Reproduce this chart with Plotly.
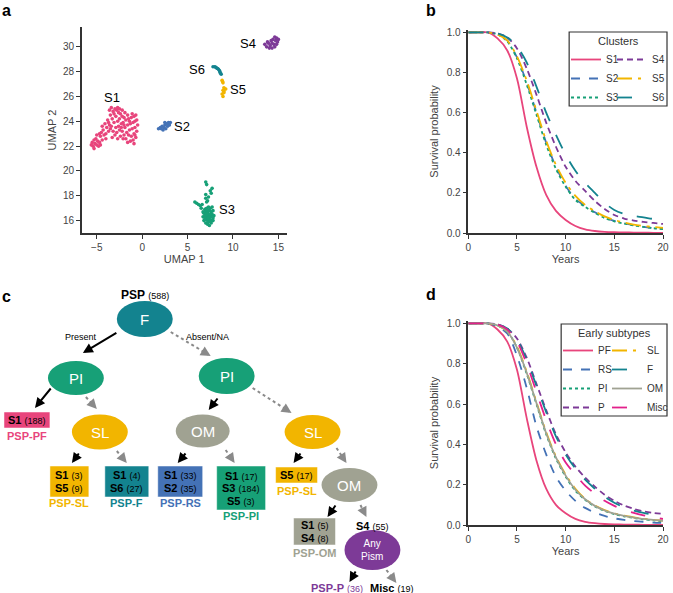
import plotly.graph_objects as go

W, H = 673, 593
FONT = "Liberation Sans, Arial, sans-serif"

# ---------------- Panel a: UMAP clusters ----------------
s1_pts = [(-5.4,22.0),(-5.2,22.2),(-5.3,21.8),(-5.0,22.1),(-4.9,22.4),(-5.1,22.6),(-4.7,22.3),(-4.6,22.8),
          (-4.4,22.5),(-4.8,22.0),(-5.5,22.3),(-4.5,23.1),(-4.2,22.9),(-4.3,23.3),(-4.0,23.0),(-3.9,23.5),
          (-4.1,23.8),(-3.7,23.2),(-3.6,23.7),(-3.8,24.1),(-3.5,24.5),(-3.2,24.8),(-3.0,25.0),(-2.8,24.9),
          (-3.3,24.2),(-2.9,24.4),(-2.6,24.7),(-2.4,24.6),(-3.1,23.9),(-2.7,24.0),(-2.5,24.2),(-2.2,24.4),
          (-2.0,24.3),(-3.4,23.6),(-2.9,23.5),(-2.6,23.6),(-2.3,23.8),(-2.1,23.9),(-1.8,24.1),(-1.5,24.2),
          (-1.2,24.3),(-0.9,24.4),(-0.7,24.5),(-3.2,23.2),(-2.8,23.1),(-2.5,23.3),(-2.2,23.2),(-1.9,23.5),
          (-1.6,23.7),(-1.3,23.8),(-1.0,23.9),(-0.8,24.0),(-3.0,22.9),(-2.4,22.8),(-2.0,22.9),(-1.7,23.1),
          (-1.4,23.3),(-1.1,23.4),(-0.8,23.5),(-0.6,23.2),(-1.5,22.9),(-1.2,22.8),(-0.9,23.0),(-0.7,22.7),
          (-1.0,22.5),(-1.3,22.4),(-2.1,22.6),(-1.8,22.6),(-0.8,22.9),(-3.6,24.9),(-3.4,25.1),(-2.5,25.0),
          (-2.2,24.9),(-3.7,23.9),(-3.5,23.4),(-4.4,23.6),(-4.7,23.0),(-5.0,22.9),(-4.0,22.6),(-3.3,22.7),
          (-2.7,22.6),(-1.6,24.5),(-1.9,24.7),(-0.6,24.1),(-2.3,23.5),(-1.1,24.6),(-2.0,23.7),(-1.4,24.0),
          (-5.6,22.1),(-5.3,22.5),(-4.6,22.1),(-3.1,24.6),(-2.7,25.1),(-0.5,23.7),(-0.9,22.2),(-1.6,22.3)]
s2_pts = [(1.8,23.4),(2.0,23.5),(2.2,23.6),(2.4,23.5),(2.5,23.7),(2.7,23.8),(2.9,23.9),(3.0,23.7),
          (2.6,23.4),(2.3,23.3),(2.8,23.6),(2.1,23.4),(3.1,23.9),(2.5,23.9)]
s3_pts = [(7.0,15.8),(7.2,15.7),(7.4,15.6),(7.6,15.8),(6.8,16.0),(7.0,16.1),(7.2,16.0),(7.4,16.1),
          (7.6,16.0),(7.8,16.2),(6.7,16.3),(6.9,16.4),(7.1,16.3),(7.3,16.4),(7.5,16.3),(7.7,16.5),
          (7.9,16.4),(6.8,16.6),(7.0,16.7),(7.2,16.6),(7.4,16.8),(7.6,16.7),(7.8,16.8),(6.9,16.9),
          (7.1,17.0),(7.3,17.1),(7.5,17.0),(7.7,17.1),(7.3,15.9),(7.5,16.5),(7.1,16.5),(6.9,16.2),
          (7.6,16.3),(7.0,16.9),(7.4,16.3),(7.2,16.2),(7.8,16.0),(6.7,16.7),(7.3,16.8),(7.5,15.9),
          (6.0,17.4),(6.2,17.3),(6.4,17.2),(6.5,17.0),(5.8,17.5),(6.6,17.3),(7.1,17.5),(7.0,17.8),
          (7.3,17.9),(7.0,18.1),(7.5,18.4),(7.7,18.6),(7.6,18.2),(7.1,18.9),(7.0,19.1),(7.2,17.6)]
s4_pts = [(13.5,30.2),(13.7,30.0),(13.9,30.3),(14.1,30.1),(14.3,29.9),(14.5,30.2),(14.7,30.5),(14.9,30.4),
          (14.6,30.8),(14.8,30.7),(14.2,30.5),(14.0,29.9),(14.4,30.6),(15.0,30.6),(13.8,30.4),(14.6,30.0),
          (14.3,30.3),(14.8,30.2)]
s5_pts = [(8.8,27.3),(8.9,27.1),(9.0,26.7),(9.1,26.6),(8.9,26.5),(9.0,26.4),(9.2,26.6),(8.8,26.2),
          (8.9,26.0),(9.0,26.3),(8.85,27.2)]
s6_pts = [(7.8,28.4),(8.0,28.4),(8.2,28.3),(8.4,28.2),(8.5,28.1),(8.6,27.9),(8.7,27.8),(8.1,28.35),
          (8.3,28.25),(8.55,28.0)]
cluster_names = ["S1", "S2", "S3", "S4", "S5", "S6"]
cluster_label_x = [-3.3, 4.4, 9.3, 11.6, 10.5, 6.0]
cluster_label_y = [25.9, 23.6, 16.9, 30.3, 26.6, 28.2]

# ---------------- Panel b: survival by cluster ----------------
years = list(range(0, 21))
s1_surv = [1, 1, 1, 0.97, 0.91, 0.77, 0.53, 0.33, 0.19, 0.11, 0.065, 0.035, 0.018, 0.01, 0.006, 0.004, 0.003, 0.002, 0.002, 0.001, 0.001]
s2_surv = [1, 1, 1, 0.99, 0.96, 0.875, 0.75, 0.60, 0.45, 0.33, 0.235, 0.17, 0.135, 0.103, 0.078, 0.06, 0.048, 0.039, 0.031, 0.025, 0.021]
s3_surv = [1, 1, 1, 0.99, 0.955, 0.87, 0.74, 0.59, 0.44, 0.32, 0.23, 0.165, 0.13, 0.1, 0.075, 0.058, 0.047, 0.038, 0.03, 0.024, 0.02]
s4_surv = [1, 1, 1, 0.995, 0.975, 0.92, 0.82, 0.69, 0.55, 0.43, 0.33, 0.26, 0.21, 0.16, 0.12, 0.09, 0.072, 0.062, 0.055, 0.05, 0.045]
s5_surv = [1, 1, 1, 0.99, 0.96, 0.88, 0.76, 0.61, 0.46, 0.34, 0.25, 0.185, 0.14, 0.108, 0.083, 0.065, 0.052, 0.042, 0.035, 0.03, 0.026]
s6_surv = [1, 1, 1, 0.995, 0.975, 0.93, 0.85, 0.73, 0.60, 0.49, 0.39, 0.31, 0.25, 0.2, 0.15, 0.115, 0.095, 0.085, 0.078, 0.07, 0.065]

# ---------------- Panel d: survival by early subtype ----------------
pf_surv = [1, 1, 1, 0.97, 0.91, 0.77, 0.53, 0.32, 0.18, 0.10, 0.058, 0.03, 0.016, 0.009, 0.005, 0.003, 0.002, 0.002, 0.001, 0.001, 0.001]
rs_surv = [1, 1, 1, 0.985, 0.95, 0.84, 0.68, 0.49, 0.35, 0.24, 0.17, 0.12, 0.085, 0.062, 0.045, 0.033, 0.025, 0.019, 0.015, 0.012, 0.01]
pi_surv = [1, 1, 1, 0.99, 0.96, 0.88, 0.75, 0.60, 0.45, 0.33, 0.24, 0.17, 0.125, 0.092, 0.07, 0.054, 0.043, 0.035, 0.028, 0.023, 0.019]
p_surv = [1, 1, 1, 0.995, 0.975, 0.925, 0.83, 0.70, 0.57, 0.45, 0.36, 0.29, 0.235, 0.19, 0.15, 0.12, 0.097, 0.08, 0.068, 0.06, 0.055]
sl_surv = [1, 1, 1, 0.99, 0.96, 0.885, 0.76, 0.61, 0.46, 0.34, 0.25, 0.18, 0.13, 0.097, 0.074, 0.057, 0.046, 0.038, 0.031, 0.026, 0.022]
f_surv = [1, 1, 1, 0.995, 0.975, 0.92, 0.82, 0.69, 0.56, 0.44, 0.35, 0.28, 0.225, 0.18, 0.14, 0.11, 0.088, 0.072, 0.06, 0.052, 0.045]
om_surv = [1, 1, 1, 0.99, 0.96, 0.88, 0.755, 0.605, 0.455, 0.335, 0.245, 0.175, 0.128, 0.095, 0.072, 0.056, 0.045, 0.037, 0.03, 0.025, 0.021]
misc_surv = [1, 1, 1, 0.995, 0.97, 0.91, 0.80, 0.66, 0.52, 0.40, 0.31, 0.25, 0.195, 0.155, 0.12, 0.095, 0.075, 0.06, 0.048, 0.038, 0.03]

# ---------------- Panel c: decision tree ----------------
root_label, root_count = "PSP", 588
tree_nodes = ["F", "PI", "PI", "SL", "OM", "SL", "OM", "Any<br>Pism"]
leaf_names = ["PSP-PF", "PSP-SL", "PSP-F", "PSP-RS", "PSP-PI", "PSP-SL", "PSP-OM"]
leaf_members = [[("S1", 188)], [("S1", 3), ("S5", 9)], [("S1", 4), ("S6", 27)], [("S1", 33), ("S2", 35)],
                [("S1", 17), ("S3", 184), ("S5", 3)], [("S5", 17)], [("S1", 5), ("S4", 8)]]
s4_rest = ("S4", 55)
final_p = ("PSP-P", 36)
final_misc = ("Misc", 19)

# ---------------- colours ----------------
C = {"S1": "#E8457C", "S2": "#4472B6", "S3": "#17A077", "S4": "#7D3A97", "S5": "#F2B500", "S6": "#13838F",
     "OM": "#A0A292", "MISC": "#E2218B"}

fig = go.Figure()

# panel a
for name, pts in zip(cluster_names, [s1_pts, s2_pts, s3_pts, s4_pts, s5_pts, s6_pts]):
    fig.add_trace(go.Scatter(x=[p[0] for p in pts], y=[p[1] for p in pts], mode="markers",
                             marker=dict(size=3.6, color=C[name]), showlegend=False,
                             xaxis="x", yaxis="y"))

# panel b
b_series = [("S1", s1_surv, C["S1"], "solid", "legend"), ("S2", s2_surv, C["S2"], "dash", "legend"),
            ("S3", s3_surv, C["S3"], "dot", "legend"), ("S4", s4_surv, C["S4"], "6px,4px", "legend2"),
            ("S5", s5_surv, C["S5"], "longdashdot", "legend2"), ("S6", s6_surv, C["S6"], "longdash", "legend2")]
for name, vals, col, dash, lg in b_series:
    fig.add_trace(go.Scatter(x=years, y=vals, mode="lines", name=name, legend=lg,
                             line=dict(color=col, width=1.8, dash=dash, shape="spline", smoothing=0.8),
                             xaxis="x2", yaxis="y2"))

# panel d
d_series = [("PF", pf_surv, C["S1"], "solid", "legend3"), ("RS", rs_surv, C["S2"], "dash", "legend3"),
            ("PI", pi_surv, C["S3"], "dot", "legend3"), ("P", p_surv, C["S4"], "6px,4px", "legend3"),
            ("SL", sl_surv, C["S5"], "longdashdot", "legend4"), ("F", f_surv, C["S6"], "longdash", "legend4"),
            ("OM", om_surv, C["OM"], "solid", "legend4"), ("Misc", misc_surv, C["MISC"], "longdash", "legend4")]
for name, vals, col, dash, lg in d_series:
    fig.add_trace(go.Scatter(x=years, y=vals, mode="lines", name=name, legend=lg,
                             line=dict(color=col, width=1.8, dash=dash, shape="spline", smoothing=0.8),
                             xaxis="x3", yaxis="y3"))

ax_style = dict(showline=True, linecolor="#333", linewidth=1.5, ticks="outside", ticklen=4, tickwidth=1.2,
                tickcolor="#333", tickfont=dict(size=10, color="#444", family=FONT), showgrid=False,
                zeroline=False, automargin=False)
tfont = dict(size=11, color="#444", family=FONT)

def px(x):
    return x / W

def py(y):
    return 1 - y / H

layout = dict(
    width=W, height=H, margin=dict(l=0, r=0, t=0, b=0), plot_bgcolor="rgba(0,0,0,0)", paper_bgcolor="white",
    font=dict(family=FONT),
    xaxis=dict(domain=[px(82), px(287)], range=[-6.64, 15.9], tickvals=[-5, 0, 5, 10, 15],
               ticktext=["\u22125", "0", "5", "10", "15"],
               title=dict(text="UMAP 1", font=tfont, standoff=4), anchor="y", **ax_style),
    yaxis=dict(domain=[py(233), py(27)], range=[15.0, 31.6], tickvals=list(range(16, 31, 2)),
               title=dict(text="UMAP 2", font=tfont, standoff=4), anchor="x", **ax_style),
    xaxis2=dict(domain=[px(469), px(664)], range=[0, 20], tickvals=[0, 5, 10, 15, 20],
                title=dict(text="Years", font=tfont, standoff=4), anchor="y2", **ax_style),
    yaxis2=dict(domain=[py(233), py(30)], range=[0, 1.012], tickvals=[0, 0.2, 0.4, 0.6, 0.8, 1.0],
                tickformat=".1f", title=dict(text="Survival probability", font=tfont, standoff=6),
                anchor="x2", **ax_style),
    xaxis3=dict(domain=[px(469), px(664)], range=[0, 20], tickvals=[0, 5, 10, 15, 20],
                title=dict(text="Years", font=tfont, standoff=4), anchor="y3", **ax_style),
    yaxis3=dict(domain=[py(525), py(321)], range=[0, 1.012], tickvals=[0, 0.2, 0.4, 0.6, 0.8, 1.0],
                tickformat=".1f", title=dict(text="Survival probability", font=tfont, standoff=6),
                anchor="x3", **ax_style),
)
leg_common = dict(bgcolor="rgba(0,0,0,0)", font=dict(size=10, color="#333", family=FONT), itemwidth=30,
                  xanchor="left", yanchor="top", tracegroupgap=0)
layout["legend"] = dict(x=px(566), y=py(45), **leg_common)
layout["legend2"] = dict(x=px(612), y=py(45), **leg_common)
layout["legend3"] = dict(x=px(558), y=py(336), **leg_common)
layout["legend4"] = dict(x=px(608), y=py(336), **leg_common)
fig.update_layout(**layout)

shapes = []
annots = []

# legend frames & titles
shapes.append(dict(type="rect", xref="paper", yref="paper", x0=px(570), x1=px(668), y0=py(32), y1=py(106),
                   line=dict(color="#333", width=1.2), fillcolor="rgba(0,0,0,0)"))
annots.append(dict(xref="paper", yref="paper", x=px(619), y=py(41), text="Clusters", showarrow=False,
                   xanchor="center", yanchor="middle", font=dict(size=11, color="#333", family=FONT)))
shapes.append(dict(type="rect", xref="paper", yref="paper", x0=px(562), x1=px(668), y0=py(324), y1=py(416),
                   line=dict(color="#333", width=1.2), fillcolor="rgba(0,0,0,0)"))
annots.append(dict(xref="paper", yref="paper", x=px(615), y=py(333), text="Early subtypes", showarrow=False,
                   xanchor="center", yanchor="middle", font=dict(size=11, color="#333", family=FONT)))

# cluster labels (panel a)
for name, lx, ly in zip(cluster_names, cluster_label_x, cluster_label_y):
    annots.append(dict(xref="x", yref="y", x=lx, y=ly, text=name, showarrow=False,
                       font=dict(size=13, color="black", family=FONT)))

# ---- helpers in pixel space ----
def txt(x, y, text, size=11, color="black", yanchor="middle"):
    annots.append(dict(xref="paper", yref="paper", x=px(x), y=py(y), text=text, showarrow=False,
                       xanchor="center", yanchor=yanchor, font=dict(size=size, color=color, family=FONT)))

# panel letters
for t, lx, ly in [("a", 7, 0), ("b", 432, 0), ("c", 7, 286), ("d", 432, 284)]:
    txt(lx, ly, "<b>%s</b>" % t, size=16, yanchor="top")

# ---- decision tree ----
node_pos = [(145, 319, 28, 18), (76, 378, 28, 17), (227, 376, 28, 18), (100, 432, 28, 17.5),
            (203, 431, 27, 16.5), (313, 432, 28, 17), (350, 485, 28, 17), (373, 550, 28, 20)]
node_col = [C["S6"], C["S3"], C["S3"], C["S5"], C["OM"], C["S5"], C["OM"], C["S4"]]
for lab, (cx, cy, rx, ry), col in zip(tree_nodes, node_pos, node_col):
    shapes.append(dict(type="circle", xref="paper", yref="paper", x0=px(cx - rx), x1=px(cx + rx),
                       y0=py(cy + ry), y1=py(cy - ry), fillcolor=col, line=dict(width=0), layer="above"))
    txt(cx, cy, lab, size=15 if "<br>" not in lab else 10, color="white")

leaf_box = [(4, 50, 412, 428, 436), (50, 89, 466, 497, 503), (105, 149, 466, 497, 503),
            (158, 203, 466, 497, 503), (217, 266, 466, 510, 516), (276, 318, 467, 483, 491),
            (294, 336, 518, 545, 553)]
leaf_col = [C["S1"], C["S5"], C["S6"], C["S2"], C["S3"], C["S5"], C["OM"]]
for name, members, (x0, x1, y0, y1, ly), col in zip(leaf_names, leaf_members, leaf_box, leaf_col):
    shapes.append(dict(type="rect", xref="paper", yref="paper", x0=px(x0), x1=px(x1), y0=py(y1), y1=py(y0),
                       fillcolor=col, line=dict(color="rgba(255,255,255,0.5)", width=1), layer="above"))
    n = len(members)
    cy = (y0 + y1) / 2
    for i, (s, c) in enumerate(members):
        yy = cy + (i - (n - 1) / 2) * 12.5
        txt((x0 + x1) / 2, yy, "<b>%s</b> <span style='font-size:9px'>(%d)</span>" % (s, c), size=11)
    txt((x0 + x1) / 2, ly, "<b>%s</b>" % name, size=11, color=col)

txt(145, 295, "<b>%s</b> <span style='font-size:9px'>(%d)</span>" % (root_label, root_count), size=12)
txt(81, 337, "Present", size=9)
txt(208, 337, "Absent/NA", size=9)
txt(373, 526, "<b>%s</b> <span style='font-size:9px'>(%d)</span>" % s4_rest, size=11)
txt(338, 588, "<b>%s</b> <span style='font-size:9px'>(%d)</span>" % final_p, size=11, color=C["S4"])
txt(393, 588, "<b>%s</b> <span style='font-size:9px'>(%d)</span>" % final_misc, size=11)

def arrow(sx, sy, tx, ty, color):
    annots.append(dict(xref="paper", yref="paper", x=px(tx), y=py(ty), ax=sx - tx, ay=sy - ty, text="",
                       showarrow=True, arrowhead=2, arrowsize=1, arrowwidth=2, arrowcolor=color, standoff=0))

solid_arrows = [((118, 332), (83, 353)), ((52, 387), (35, 408)), ((80, 452), (72, 463)),
                ((219, 397), (209, 410)), ((187, 452), (178, 463)), ((302, 452), (294, 463)),
                ((337, 504), (328, 517)), ((357, 570), (350, 582))]
for (sx, sy), (tx, ty) in solid_arrows:
    arrow(sx, sy, tx, ty, "black")

dotted_arrows = [((171, 332), (211, 356)), ((86, 397), (97, 409)), ((117, 451), (127, 463)),
                 ((253, 388), (292, 413)), ((226, 450), (235, 463)), ((337, 448), (347, 463)),
                 ((361, 505), (367, 517)), ((387, 570), (397, 583))]
for (sx, sy), (tx, ty) in dotted_arrows:
    dx, dy = tx - sx, ty - sy
    L = (dx * dx + dy * dy) ** 0.5
    bx, by = tx - dx / L * 5, ty - dy / L * 5
    shapes.append(dict(type="line", xref="paper", yref="paper", x0=px(sx), y0=py(sy), x1=px(bx), y1=py(by),
                       line=dict(color="#8a8a8a", width=2, dash="dot"), layer="above"))
    arrow(bx, by, tx, ty, "#8a8a8a")

fig.update_layout(shapes=shapes, annotations=annots)
fig.write_html("out.html")
